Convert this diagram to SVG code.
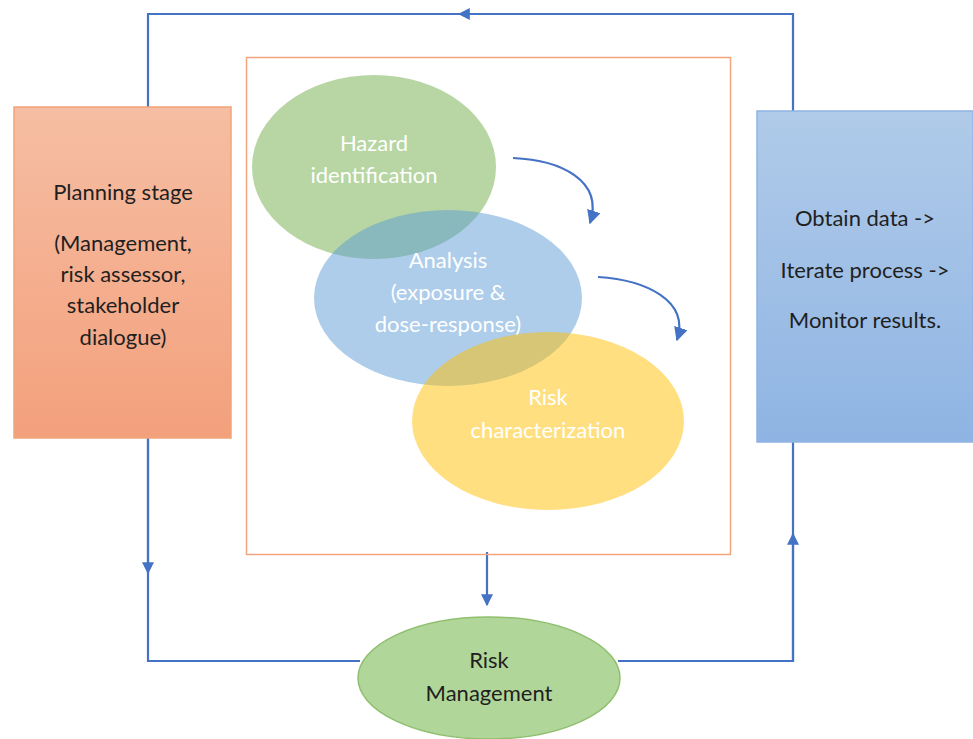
<svg xmlns="http://www.w3.org/2000/svg" width="973" height="739" viewBox="0 0 973 739">
<defs>
<linearGradient id="gOrange" x1="0" y1="0" x2="0" y2="1"><stop offset="0" stop-color="#f6bea3"/><stop offset="1" stop-color="#f3a07c"/></linearGradient>
<linearGradient id="gBlue" x1="0" y1="0" x2="0" y2="1"><stop offset="0" stop-color="#b0cbe9"/><stop offset="1" stop-color="#8fb4e3"/></linearGradient>
<marker id="arr" viewBox="0 0 10 10" refX="9" refY="5" markerWidth="12" markerHeight="12" markerUnits="userSpaceOnUse" orient="auto"><path d="M0,0 L10,5 L0,10 z" fill="#4472c4"/></marker>
<marker id="arrC" viewBox="0 0 10 10" refX="9" refY="5" markerWidth="14" markerHeight="14" markerUnits="userSpaceOnUse" orient="auto"><path d="M0,0 L10,5 L0,10 z" fill="#4472c4"/></marker>
</defs>
<style>
.t{font-family:Lato,"Open Sans","Liberation Sans",sans-serif;font-size:22px;text-anchor:middle}
.dk{fill:#1f1f1f}
.wh{fill:#ffffff}
.ln{fill:none;stroke:#4472c4;stroke-width:2.2}
</style>
<rect width="973" height="739" fill="#ffffff"/>
<g id="connectors">
<path class="ln" d="M793,111 V14 H148 V107"/>
<path class="ln" d="M793,14 H459" marker-end="url(#arr)"/>
<path class="ln" d="M148,438 V661 H360"/>
<path class="ln" d="M148,438 V573" marker-end="url(#arr)"/>
<path class="ln" d="M618,661 H793 V442"/>
<path class="ln" d="M793,661 V534" marker-end="url(#arr)"/>
<path class="ln" d="M487,552 V605" marker-end="url(#arr)"/>
<path class="ln" stroke-width="1.5" d="M513,158 C560,160 604,180 590,223" marker-end="url(#arrC)"/>
<path class="ln" stroke-width="1.5" d="M598,277 C645,280 690,300 677,340" marker-end="url(#arrC)"/>
</g>
<g id="frame"><rect x="246.5" y="57.5" width="484" height="497" fill="none" stroke="#f4a57d" stroke-width="1.5"/></g>
<g id="planning">
<rect x="14" y="107" width="217" height="331" fill="url(#gOrange)" stroke="#f1a47a" stroke-width="1.5"/>
<text class="t dk" x="123" y="200">Planning stage</text>
<text class="t dk" x="123" y="251">(Management,</text>
<text class="t dk" x="123" y="282">risk assessor,</text>
<text class="t dk" x="123" y="313">stakeholder</text>
<text class="t dk" x="123" y="345">dialogue)</text>
</g>
<g id="monitor">
<rect x="757" y="111" width="216" height="331" fill="url(#gBlue)" stroke="#8fb4e3" stroke-width="1.5"/>
<text class="t dk" x="865" y="226">Obtain data -&gt;</text>
<text class="t dk" x="865" y="278">Iterate process -&gt;</text>
<text class="t dk" x="865" y="328">Monitor results.</text>
</g>
<g id="hazard">
<ellipse cx="374" cy="167" rx="122" ry="92" fill="#70ad47" fill-opacity="0.5"/>
<text class="t wh" x="374" y="151">Hazard</text>
<text class="t wh" x="374" y="183">identification</text>
</g>
<g id="analysis">
<ellipse cx="448" cy="298" rx="134" ry="88" fill="#5b9bd5" fill-opacity="0.5"/>
<text class="t wh" x="448" y="268">Analysis</text>
<text class="t wh" x="448" y="300">(exposure &amp;</text>
<text class="t wh" x="448" y="332">dose-response)</text>
</g>
<g id="riskchar">
<ellipse cx="548" cy="421" rx="136" ry="89" fill="#ffc000" fill-opacity="0.5"/>
<text class="t wh" x="548" y="405">Risk</text>
<text class="t wh" x="548" y="438">characterization</text>
</g>
<g id="riskmgmt">
<ellipse cx="489" cy="678" rx="131" ry="61" fill="#a9d18e" fill-opacity="0.9" stroke="#8fbf6f" stroke-width="1.5"/>
<text class="t dk" x="489" y="668">Risk</text>
<text class="t dk" x="489" y="701">Management</text>
</g>
</svg>
